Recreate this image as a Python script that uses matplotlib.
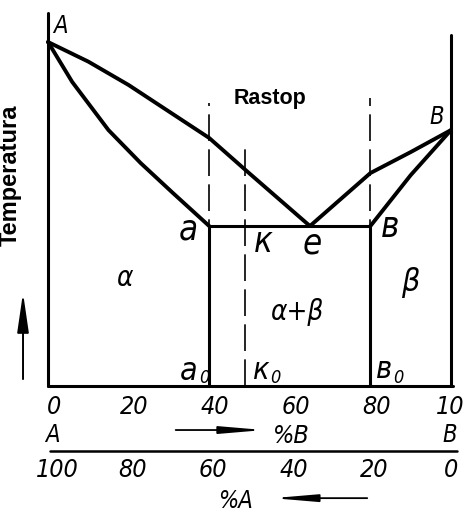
import matplotlib
matplotlib.use("Agg")
from matplotlib import pyplot as plt

# composition in %B, temperature in arbitrary units (A melts at 100)
liq_left_x = [0, 10, 20, 30, 40, 49, 65]
liq_left_t = [100, 94.3, 87.5, 79.8, 72.1, 62.8, 46.5]
sol_left_x = [0, 6, 15, 23, 31, 40]
sol_left_t = [100, 88.4, 74.4, 64.8, 56.1, 46.5]
liq_right_x = [65, 80, 90, 100]
liq_right_t = [46.5, 61.9, 68.0, 74.4]
sol_right_x = [80, 90, 100]
sol_right_t = [46.5, 61.3, 74.4]

eut_t = 46.5
x_a, x_k, x_b = 40, 49, 80
dash_top = {40: 82.3, 49: 70.6, 80: 83.7}

ticks_b = [0, 20, 40, 60, 80, 100]
ticks_a = ['100', '80', '60', '40', '20', '0']
ticks_a_pos = [2.2, 21, 41, 61, 81, 100]

ital = dict(family=['DejaVu Sans'], style='italic', stretch='condensed')
bold = dict(family=['Liberation Sans', 'DejaVu Sans'], weight='bold')

fig = plt.figure(figsize=(4.64, 5.15), dpi=100)
ax = fig.add_axes([48 / 464, 129 / 515, 403 / 464, 344 / 515])
ax.set_xlim(0, 100)
ax.set_ylim(0, 100)
ax.axis('off')

k = dict(color='black', solid_capstyle='round', clip_on=False)

# frame
ax.plot([0, 0], [0, 108.4], lw=2.2, **k)
ax.plot([100, 100], [0, 102], lw=2.2, **k)
ax.plot([0, 100.5], [0, 0], lw=2.2, **k)

# curves
ax.plot(liq_left_x, liq_left_t, lw=2.8, **k)
ax.plot(sol_left_x, sol_left_t, lw=2.8, **k)
ax.plot(liq_right_x, liq_right_t, lw=2.8, **k)
ax.plot(sol_right_x, sol_right_t, lw=2.8, **k)
ax.plot([x_a, x_b], [eut_t, eut_t], lw=2.2, **k)
ax.plot([x_a, x_a], [0, eut_t], lw=2.2, **k)
ax.plot([x_b, x_b], [0, eut_t], lw=2.2, **k)

# dashed verticals
for xv, top in dash_top.items():
    ax.plot([xv, xv], [0, top], color='black', lw=1.2, dashes=(16, 5), clip_on=False)

# point letters
ax.text(3, 104.7, 'A', fontsize=17, ha='center', va='center', **ital)
ax.text(96.5, 78.2, 'B', fontsize=17, ha='center', va='center', **ital)
ax.text(34.8, 45.5, 'a', fontsize=25, ha='center', va='center', **ital)
ax.text(53.5, 41.8, 'к', fontsize=25, ha='center', va='center', **ital)
ax.text(65.5, 41.5, 'e', fontsize=25, ha='center', va='center', **ital)
ax.text(84.9, 46.2, 'в', fontsize=25, ha='center', va='center', **ital)

ax.text(35, 4.3, 'a', fontsize=23, ha='center', va='center', **ital)
ax.text(38.8, 2.2, '0', fontsize=13, ha='center', va='center', **ital)
ax.text(52.8, 4.5, 'к', fontsize=22, ha='center', va='center', **ital)
ax.text(56.5, 2.2, '0', fontsize=13, ha='center', va='center', **ital)
ax.text(83.4, 4.8, 'в', fontsize=22, ha='center', va='center', **ital)
ax.text(87, 2.2, '0', fontsize=13, ha='center', va='center', **ital)

# phase regions
ax.text(18.9, 31.4, 'α', fontsize=20, ha='center', va='center', **ital)
ax.text(61.8, 21.5, 'α+β', fontsize=20, ha='center', va='center', **ital)
ax.text(90, 30.2, 'β', fontsize=23, ha='center', va='center', **ital)
ax.text(55, 83.5, 'Rastop', fontsize=15.5, ha='center', va='center', **bold)

# left label and arrow
ax.text(-9.4, 61.3, 'Temperatura', fontsize=17, rotation=90,
        ha='center', va='center', **bold)
ax.annotate('', xy=(-6.2, 27.9), xytext=(-6.2, 1.2), annotation_clip=False,
            arrowprops=dict(arrowstyle='-|>,head_length=2.4,head_width=0.35',
                            color='black', lw=1.4))

# composition scales
for v in ticks_b:
    ax.text(v + 1.5, -6.1, str(v), fontsize=18, ha='center', va='center', **ital)
for v, lab in zip(ticks_a_pos, ticks_a):
    ax.text(v, -24.4, lab, fontsize=18, ha='center', va='center', **ital)
ax.text(1, -14.2, 'A', fontsize=17, ha='center', va='center', **ital)
ax.text(99.8, -14.2, 'B', fontsize=17, ha='center', va='center', **ital)
ax.text(60.5, -14.5, '%B', fontsize=18, ha='center', va='center', **ital)
ax.plot([0.5, 101.5], [-18.9, -18.9], lw=1.8, **k)
ax.text(46.5, -33.5, '%A', fontsize=17, ha='center', va='center', **ital)

ax.annotate('', xy=(54.3, -12.8), xytext=(31, -12.8), annotation_clip=False,
            arrowprops=dict(arrowstyle='-|>,head_length=2.6,head_width=0.22',
                            color='black', lw=1.3))
ax.annotate('', xy=(55.1, -32.6), xytext=(79.9, -32.6), annotation_clip=False,
            arrowprops=dict(arrowstyle='-|>,head_length=2.6,head_width=0.22',
                            color='black', lw=1.3))

fig.savefig('out.png', dpi=100)
